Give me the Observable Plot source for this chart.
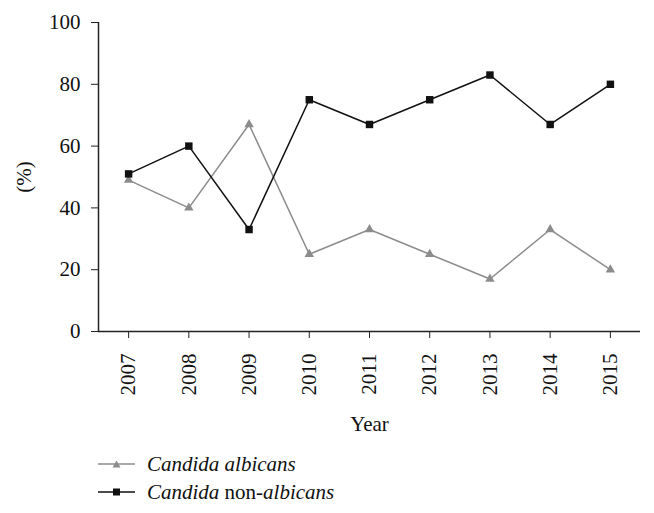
<!DOCTYPE html>
<html>
<head>
<meta charset="utf-8">
<script src="https://cdn.jsdelivr.net/npm/d3@7"></script>
<script src="https://cdn.jsdelivr.net/npm/@observablehq/plot@0.6"></script>
<style>
  body { margin: 0; background: #fff; font-family: "Liberation Serif", serif; }
  #chart { position: relative; width: 654px; }
  .legend { margin-left: 98px; font-size: 21px; color: #111; }
  .legend .row { display: flex; align-items: center; height: 28px; }
  .legend svg { margin-right: 11px; }
</style>
</head>
<body>
<div id="chart"></div>
<div class="legend" id="legend"></div>
<script>
const years = [2007, 2008, 2009, 2010, 2011, 2012, 2013, 2014, 2015];
const albicans = [49, 40, 67, 25, 33, 25, 17, 33, 20];
const nonAlbicans = [51, 60, 33, 75, 67, 75, 83, 67, 80];
const yTicks = [0, 20, 40, 60, 80, 100];

const gray = "#8c8c8c";
const black = "#111";

const dataA = years.map((y, i) => ({year: y, value: albicans[i]}));
const dataN = years.map((y, i) => ({year: y, value: nonAlbicans[i]}));

const chart = Plot.plot({
  width: 654,
  height: 440,
  marginLeft: 98,
  marginRight: 14,
  marginTop: 22,
  marginBottom: 109,
  style: {fontFamily: "Liberation Serif, serif", fontSize: "21px", color: "#111", background: "#fff"},
  x: {domain: [2006.5, 2015.5]},
  y: {domain: [0, 100]},
  marks: [
    Plot.axisY({ticks: yTicks, tickSize: 7, tickPadding: 11, label: "(%)", labelAnchor: "center", labelArrow: "none", labelOffset: 82, fontSize: 21, stroke: "#222"}),
    Plot.axisX({ticks: years, tickFormat: d => String(d), tickSize: 7, tickPadding: 15, tickRotate: -90, label: "Year", labelAnchor: "center", labelArrow: "none", labelOffset: 99, fontSize: 21, stroke: "#222"}),
    Plot.ruleY([0], {stroke: "#222", strokeWidth: 1.5}),
    Plot.ruleX([2006.5], {y1: 0, y2: 100, stroke: "#222", strokeWidth: 1.5}),
    Plot.line(dataA, {x: "year", y: "value", stroke: gray, strokeWidth: 1.5}),
    Plot.dot(dataA, {x: "year", y: "value", symbol: "triangle", r: 3.5, fill: gray, stroke: "none"}),
    Plot.line(dataN, {x: "year", y: "value", stroke: black, strokeWidth: 1.5}),
    Plot.dot(dataN, {x: "year", y: "value", symbol: "square", r: 4.2, fill: black, stroke: "none"})
  ]
});
document.getElementById("chart").appendChild(chart);

const legendItems = [
  {html: "<i>Candida albicans</i>", color: gray, symbol: "tri"},
  {html: "<i>Candida</i> non-<i>albicans</i>", color: black, symbol: "sq"}
];
const legend = document.getElementById("legend");
legend.style.marginTop = "10px";
for (const it of legendItems) {
  const row = document.createElement("div");
  row.className = "row";
  const marker = it.symbol === "tri"
    ? `<path d="M18.5,2.5 L22.5,9.5 L14.5,9.5 Z" fill="${it.color}"/>`
    : `<rect x="15" y="2.5" width="7" height="7" fill="${it.color}"/>`;
  row.innerHTML = `<svg width="38" height="12"><line x1="0" x2="37" y1="6" y2="6" stroke="${it.color}" stroke-width="1.5"/>${marker}</svg><span>${it.html}</span>`;
  legend.appendChild(row);
}
</script>
</body>
</html>
